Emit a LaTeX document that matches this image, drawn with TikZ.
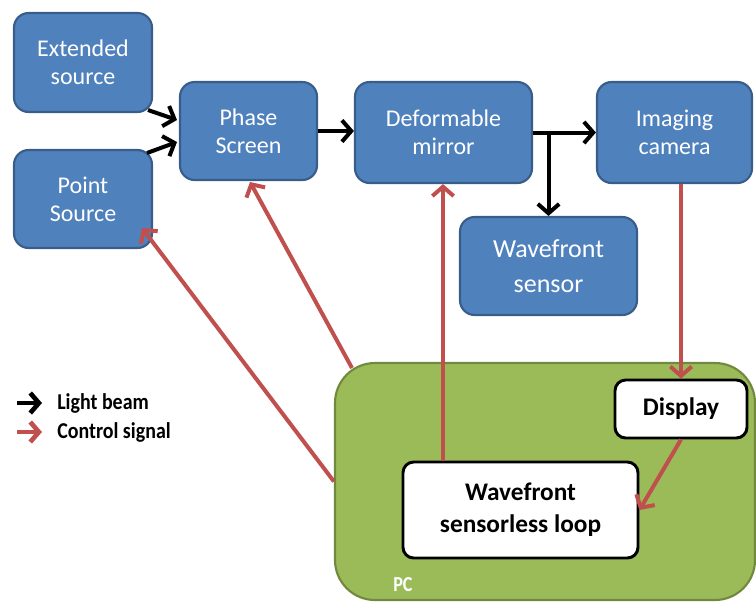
\documentclass[tikz,border=0pt]{standalone}
\usepackage{fontspec}
\setmainfont{Carlito}
\usetikzlibrary{arrows.meta,calc}
\definecolor{boxblue}{HTML}{4F81BD}
\definecolor{boxbluedark}{HTML}{385D8A}
\definecolor{pcgreen}{HTML}{9BBB59}
\definecolor{pcgreendark}{HTML}{71893F}
\definecolor{ctrlred}{HTML}{C0504D}
\tikzset{
  bluebox/.style={draw=boxbluedark, fill=boxblue, line width=1.6pt, rounded corners=11pt,
    text=white, align=center, font=\fontsize{18}{21}\selectfont, inner sep=0pt},
  whitebox/.style={draw=black, fill=white, line width=2.2pt, rounded corners=8pt,
    text=black, align=center, font=\bfseries\fontsize{19}{24}\selectfont, inner sep=0pt},
  pcbox/.style={draw=pcgreendark, fill=pcgreen, line width=1.6pt, rounded corners=30pt, inner sep=0pt},
  beam/.style={draw=black, line width=3pt, -{Straight Barb[length=7pt,width=16pt,line width=3pt]}},
  ctrl/.style={draw=ctrlred, line width=3pt, -{Straight Barb[length=7pt,width=16pt,line width=3pt]}},
  legendtext/.style={anchor=west, inner sep=0pt, font=\bfseries\fontsize{17}{20}\selectfont},
}
\begin{document}
\begin{tikzpicture}[x=0.75pt,y=-0.75pt]
\useasboundingbox (0,0) rectangle (756,601);
% PC container
\node[pcbox, minimum width=315pt, minimum height=177.75pt] (pc) at (545,481.5) {};
\node[anchor=west, inner sep=0pt, text=white, font=\bfseries\fontsize{16}{18}\selectfont] (pclabel) at (393,585) {\scalebox{0.85}[1]{PC}};
% blue boxes
\node[bluebox, minimum width=103.5pt, minimum height=74.25pt] (ext) at (83,62.5) {Extended\\source};
\node[bluebox, minimum width=103.5pt, minimum height=73.5pt] (pts) at (83,199) {Point\\Source};
\node[bluebox, minimum width=102.75pt, minimum height=73.5pt] (phase) at (248.5,131) {Phase\\Screen};
\node[bluebox, minimum width=132.75pt, minimum height=75.75pt] (dm) at (443.5,132.5) {Deformable\\mirror};
\node[bluebox, minimum width=116.25pt, minimum height=75.75pt] (cam) at (674.5,132.5) {Imaging\\camera};
\node[bluebox, minimum width=132.75pt, minimum height=73.5pt, font=\fontsize{19.5}{26}\selectfont] (wfs) at (548.5,266) {Wavefront\\sensor};
% white boxes
\node[whitebox, minimum width=99pt, minimum height=43.5pt] (disp) at (681,409) {Display};
\node[whitebox, minimum width=176.25pt, minimum height=72pt] (loop) at (520.5,510) {Wavefront\\sensorless loop};
% black light beams
\coordinate (e1) at (148,110);
\coordinate (e2) at (177,120);
\coordinate (p1) at (147,153);
\coordinate (p2) at (177,142);
\draw[beam] (e1) -- (e2);
\draw[beam] (p1) -- (p2);
\draw[beam] (phase.east) -- (dm.west |- phase.east);
\draw[beam] (dm.east) -- (cam.west);
\draw[beam] ($(dm.east -| wfs.north)+(0,-1.5)$) -- (wfs.north);
% red control signals
\draw[ctrl] (cam.south -| disp.north) -- (disp.north);
\draw[ctrl] (disp.south) -- (loop.east);
\draw[ctrl] (loop.north -| 443,0) -- (dm.south -| 443,0);
\coordinate (pcA) at (352,368);
\draw[ctrl] (pcA) -- (250,182);
\coordinate (ptip) at (142,228);
\draw[ctrl] (pc.west) -- (ptip);
% legend
\coordinate (lb1) at (17,403);
\coordinate (lb2) at (42,403);
\coordinate (lc1) at (17,432);
\coordinate (lc2) at (42,432);
\draw[beam, line width=3.5pt, -{Straight Barb[length=6.5pt,width=15pt,line width=3.5pt]}] (lb1) -- (lb2);
\draw[ctrl, line width=3.5pt, -{Straight Barb[length=6.5pt,width=15pt,line width=3.5pt]}] (lc1) -- (lc2);
\node[legendtext] (lbt) at (57,403) {\scalebox{0.88}[1]{Light beam}};
\node[legendtext] (lct) at (57,432) {\scalebox{0.88}[1]{Control signal}};
\end{tikzpicture}
\end{document}
